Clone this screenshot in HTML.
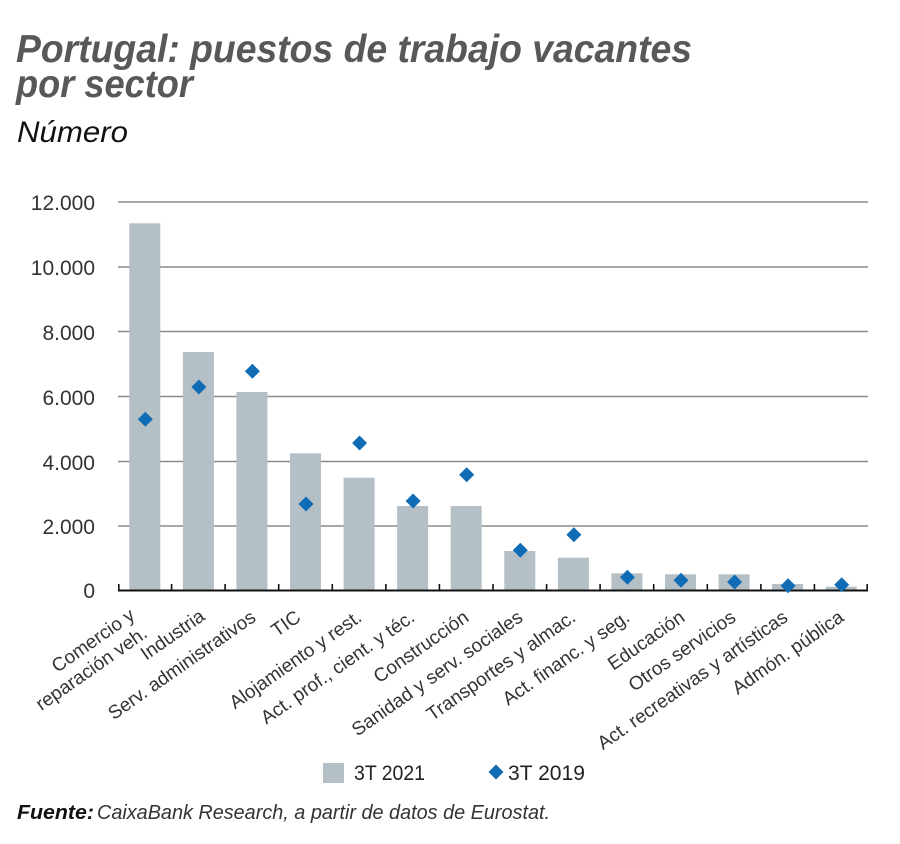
<!DOCTYPE html>
<html>
<head>
<meta charset="utf-8">
<style>
  html, body { margin:0; padding:0; background:#ffffff; }
  svg { display:block; }
  text { font-family: "Liberation Sans", Arial, sans-serif; }
</style>
</head>
<body>
<svg width="900" height="844" viewBox="0 0 900 844" xmlns="http://www.w3.org/2000/svg">
  <rect x="0" y="0" width="900" height="844" fill="#ffffff"/>

  <!-- Title -->
  <text x="16" y="62" font-size="39" font-weight="bold" font-style="italic" fill="#58585a" textLength="676" lengthAdjust="spacingAndGlyphs">Portugal: puestos de trabajo vacantes</text>
  <text x="16" y="97" font-size="39" font-weight="bold" font-style="italic" fill="#58585a" textLength="177" lengthAdjust="spacingAndGlyphs">por sector</text>
  <text x="17" y="142" font-size="30" font-style="italic" fill="#111111" textLength="111" lengthAdjust="spacingAndGlyphs">Número</text>

  <!-- Gridlines -->
  <g stroke="#8a8a8a" stroke-width="1.5">
    <line x1="118" y1="202" x2="868" y2="202"/>
    <line x1="118" y1="267" x2="868" y2="267"/>
    <line x1="118" y1="331.5" x2="868" y2="331.5"/>
    <line x1="118" y1="396.5" x2="868" y2="396.5"/>
    <line x1="118" y1="461.5" x2="868" y2="461.5"/>
    <line x1="118" y1="526" x2="868" y2="526"/>
  </g>

  <!-- Y axis labels -->
  <g font-size="21" fill="#333333" text-anchor="end">
    <text x="95" y="210">12.000</text>
    <text x="95" y="275">10.000</text>
    <text x="95" y="340">8.000</text>
    <text x="95" y="405">6.000</text>
    <text x="95" y="470">4.000</text>
    <text x="95" y="534">2.000</text>
    <text x="95" y="598">0</text>
  </g>

  <!-- Bars (3T 2021) -->
  <g fill="#b5bfc6">
    <rect x="129.3" y="223.3" width="31" height="367"/>
    <rect x="182.9" y="352" width="31" height="238.5"/>
    <rect x="236.4" y="392" width="31" height="198.5"/>
    <rect x="290.0" y="453.3" width="31" height="137.2"/>
    <rect x="343.6" y="477.7" width="31" height="112.8"/>
    <rect x="397.1" y="506" width="31" height="84.5"/>
    <rect x="450.7" y="506" width="31" height="84.5"/>
    <rect x="504.3" y="551" width="31" height="39.5"/>
    <rect x="557.9" y="557.7" width="31" height="32.8"/>
    <rect x="611.4" y="573.3" width="31" height="17.2"/>
    <rect x="665.0" y="574.3" width="31" height="16.2"/>
    <rect x="718.6" y="574.3" width="31" height="16.2"/>
    <rect x="772.1" y="584" width="31" height="6.5"/>
    <rect x="825.7" y="586.7" width="31" height="3.8"/>
  </g>

  <!-- Axis line and ticks -->
  <line x1="118" y1="590.5" x2="868" y2="590.5" stroke="#111111" stroke-width="2"/>
  <g stroke="#111111" stroke-width="1.6">
    <line x1="118.8" y1="584" x2="118.8" y2="591"/>
    <line x1="171.6" y1="584" x2="171.6" y2="591"/>
    <line x1="225.1" y1="584" x2="225.1" y2="591"/>
    <line x1="278.7" y1="584" x2="278.7" y2="591"/>
    <line x1="332.3" y1="584" x2="332.3" y2="591"/>
    <line x1="385.9" y1="584" x2="385.9" y2="591"/>
    <line x1="439.4" y1="584" x2="439.4" y2="591"/>
    <line x1="493.0" y1="584" x2="493.0" y2="591"/>
    <line x1="546.6" y1="584" x2="546.6" y2="591"/>
    <line x1="600.1" y1="584" x2="600.1" y2="591"/>
    <line x1="653.7" y1="584" x2="653.7" y2="591"/>
    <line x1="707.3" y1="584" x2="707.3" y2="591"/>
    <line x1="760.9" y1="584" x2="760.9" y2="591"/>
    <line x1="814.4" y1="584" x2="814.4" y2="591"/>
    <line x1="867.2" y1="584" x2="867.2" y2="591"/>
  </g>

  <!-- Diamonds (3T 2019) -->
  <g fill="#0f6cb5">
    <polygon points="145.3,411.8 152.8,419.3 145.3,426.8 137.8,419.3"/>
    <polygon points="198.9,379.5 206.4,387 198.9,394.5 191.4,387"/>
    <polygon points="252.4,363.8 259.9,371.3 252.4,378.8 244.9,371.3"/>
    <polygon points="306.0,496.5 313.5,504 306.0,511.5 298.5,504"/>
    <polygon points="359.6,435.5 367.1,443 359.6,450.5 352.1,443"/>
    <polygon points="413.1,493.5 420.6,501 413.1,508.5 405.6,501"/>
    <polygon points="466.7,467.2 474.2,474.7 466.7,482.2 459.2,474.7"/>
    <polygon points="520.3,542.8 527.8,550.3 520.3,557.8 512.8,550.3"/>
    <polygon points="573.9,527.2 581.4,534.7 573.9,542.2 566.4,534.7"/>
    <polygon points="627.4,569.8 634.9,577.3 627.4,584.8 619.9,577.3"/>
    <polygon points="681.0,572.8 688.5,580.3 681.0,587.8 673.5,580.3"/>
    <polygon points="734.6,574.5 742.1,582 734.6,589.5 727.1,582"/>
    <polygon points="788.1,578.2 795.6,585.7 788.1,593.2 780.6,585.7"/>
    <polygon points="841.7,577.2 849.2,584.7 841.7,592.2 834.2,584.7"/>
  </g>

  <!-- Category labels -->
  <g font-size="19" fill="#333333" text-anchor="end">
    <g transform="translate(136,618) rotate(-35)">
      <text x="0" y="0">Comercio y</text>
      <text x="0" y="22">reparación veh.</text>
    </g>
    <text transform="translate(206,619) rotate(-35)">Industria</text>
    <text transform="translate(257,620) rotate(-35)">Serv. administrativos</text>
    <text transform="translate(302,620) rotate(-35)">TIC</text>
    <text transform="translate(363,620) rotate(-35)">Alojamiento y rest.</text>
    <text transform="translate(416,620) rotate(-35)">Act. prof., cient. y téc.</text>
    <text transform="translate(470,620) rotate(-35)">Construcción</text>
    <text transform="translate(524,620) rotate(-35)">Sanidad y serv. sociales</text>
    <text transform="translate(577,620) rotate(-35)">Transportes y almac.</text>
    <text transform="translate(631,620) rotate(-35)">Act. financ. y seg.</text>
    <text transform="translate(686,620) rotate(-35)">Educación</text>
    <text transform="translate(737,620) rotate(-35)">Otros servicios</text>
    <text transform="translate(789,620) rotate(-35)">Act. recreativas y artísticas</text>
    <text transform="translate(845,620) rotate(-35)">Admón. pública</text>
  </g>

  <!-- Legend -->
  <rect x="323" y="763" width="21" height="20" fill="#b5bfc6"/>
  <text x="354" y="780" font-size="21" fill="#222222" textLength="71" lengthAdjust="spacingAndGlyphs">3T 2021</text>
  <polygon points="496,764.5 503.5,772 496,779.5 488.5,772" fill="#0f6cb5"/>
  <text x="508" y="780" font-size="21" fill="#222222" textLength="77" lengthAdjust="spacingAndGlyphs">3T 2019</text>

  <!-- Source -->
  <text x="17" y="819" font-size="20" font-weight="bold" font-style="italic" fill="#111111" textLength="77" lengthAdjust="spacingAndGlyphs">Fuente:</text>
  <text x="97" y="819" font-size="20" font-style="italic" fill="#333333" textLength="453" lengthAdjust="spacingAndGlyphs">CaixaBank Research, a partir de datos de Eurostat.</text>
</svg>
</body>
</html>
